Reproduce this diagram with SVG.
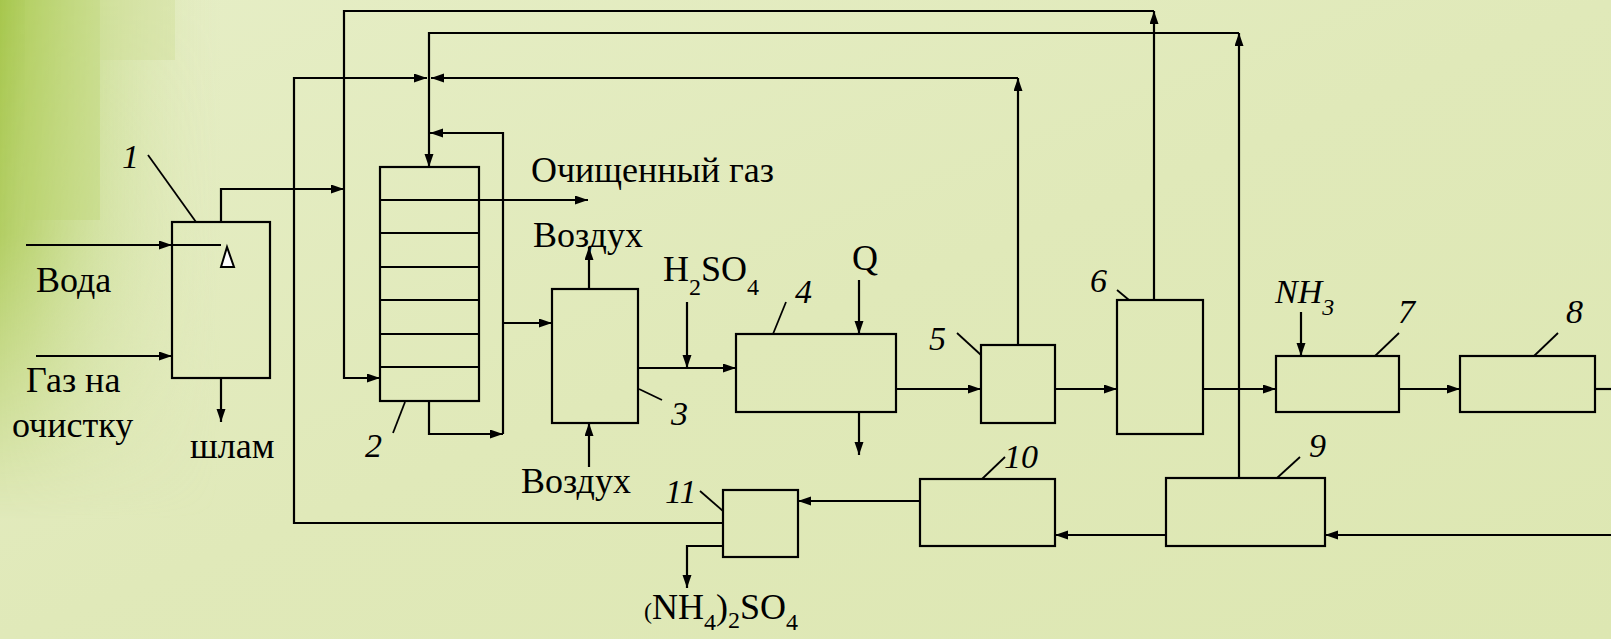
<svg xmlns="http://www.w3.org/2000/svg" width="1611" height="639" viewBox="0 0 1611 639">
<defs>
<linearGradient id="bg" x1="0" y1="0" x2="1" y2="1">
<stop offset="0" stop-color="#e6eec6"/>
<stop offset="0.5" stop-color="#e0e9b9"/>
<stop offset="1" stop-color="#dde7b2"/>
</linearGradient>
<linearGradient id="gh" x1="0" y1="0" x2="1" y2="0">
<stop offset="0" stop-color="#a6c64c" stop-opacity="1"/>
<stop offset="0.15" stop-color="#b0cd5e" stop-opacity="0.9"/>
<stop offset="0.45" stop-color="#c3d985" stop-opacity="0.6"/>
<stop offset="1" stop-color="#dfe8b8" stop-opacity="0"/>
</linearGradient>
<linearGradient id="gv" x1="0" y1="0" x2="0" y2="1">
<stop offset="0" stop-color="#fff" stop-opacity="1"/>
<stop offset="0.45" stop-color="#fff" stop-opacity="0.8"/>
<stop offset="1" stop-color="#fff" stop-opacity="0"/>
</linearGradient>
<mask id="mv"><rect x="0" y="0" width="220" height="520" fill="url(#gv)"/></mask>
<marker id="ar" markerUnits="userSpaceOnUse" markerWidth="14" markerHeight="10" refX="13" refY="4.5" orient="auto">
<path d="M0,0 L13,4.5 L0,9 z" fill="#000"/>
</marker>
<style>
.box{fill:none;stroke:#000;stroke-width:2.2}
.ln{fill:none;stroke:#000;stroke-width:2.2}
.c path{fill:none;stroke:#000;stroke-width:2.2}
.c path.a{marker-end:url(#ar)}
.ld{stroke:#000;stroke-width:1.8}
text{font-family:'Liberation Serif',serif}
.t{font-size:36px;fill:#000}
.n{font-size:34px;font-style:italic;fill:#000}
.s{font-size:24px}
</style>
</defs>
<rect width="1611" height="639" fill="url(#bg)"/>
<rect x="0" y="0" width="220" height="520" fill="url(#gh)" mask="url(#mv)"/>
<rect x="25" y="0" width="75" height="220" fill="#b9d36e" opacity="0.35"/>
<rect x="100" y="0" width="75" height="60" fill="#c9dc8c" opacity="0.3"/>

<g font-family="Liberation Serif">
<g id="node1">
<rect class="box" x="172" y="222" width="98" height="156"/>
<path class="ln" d="M172,245 H221"/>
<path d="M227,247 L221,267 L234,267 z" fill="#fff" stroke="#000" stroke-width="2"/>
<line class="ld" x1="148" y1="155" x2="196" y2="222"/>
<text class="n" x="122" y="168">1</text>
</g>

<g id="node2">
<rect class="box" x="380" y="167" width="99" height="234"/>
<path class="ln" d="M380,200 H479 M380,233 H479 M380,267 H479 M380,300 H479 M380,334 H479 M380,367 H479"/>
<line class="ld" x1="405" y1="402" x2="393" y2="433"/>
<text class="n" x="365" y="457">2</text>
</g>

<g id="node3">
<rect class="box" x="552" y="289" width="86" height="134"/>
<line class="ld" x1="639" y1="389" x2="662" y2="400"/>
<text class="n" x="671" y="425">3</text>
</g>

<g id="node4">
<rect class="box" x="736" y="334" width="160" height="78"/>
<line class="ld" x1="773" y1="334" x2="786" y2="302"/>
<text class="n" x="795" y="303">4</text>
</g>

<g id="node5">
<rect class="box" x="981" y="345" width="74" height="78"/>
<line class="ld" x1="957" y1="333" x2="981" y2="355"/>
<text class="n" x="929" y="350">5</text>
</g>

<g id="node6">
<rect class="box" x="1117" y="300" width="86" height="134"/>
<line class="ld" x1="1117" y1="290" x2="1129" y2="300"/>
<text class="n" x="1090" y="292">6</text>
</g>

<g id="node7">
<rect class="box" x="1276" y="356" width="123" height="56"/>
<line class="ld" x1="1375" y1="356" x2="1399" y2="333"/>
<text class="n" x="1398" y="323">7</text>
</g>

<g id="node8">
<rect class="box" x="1460" y="356" width="135" height="56"/>
<line class="ld" x1="1534" y1="356" x2="1558" y2="333"/>
<text class="n" x="1566" y="323">8</text>
</g>

<g id="node9">
<rect class="box" x="1166" y="478" width="159" height="68"/>
<line class="ld" x1="1277" y1="478" x2="1300" y2="457"/>
<text class="n" x="1309" y="457">9</text>
</g>

<g id="node10">
<rect class="box" x="920" y="479" width="135" height="67"/>
<line class="ld" x1="982" y1="479" x2="1005" y2="457"/>
<text class="n" x="1004" y="468">10</text>
</g>

<g id="node11">
<rect class="box" x="723" y="490" width="75" height="67"/>
<line class="ld" x1="700" y1="491" x2="723" y2="511"/>
<text class="n" x="665" y="503">11</text>
</g>

<g id="connectors" class="c">
<path class="a" d="M26,245 H172"/>
<path class="a" d="M36,356 H172"/>
<path class="a" d="M221,378 V422"/>
<path class="a" d="M221,222 V189 H344"/>
<path class="a" d="M1154,300 V11"/>
<path class="a" d="M1154,11 H344 V378 H380"/>
<path class="a" d="M1239,478 V33"/>
<path class="a" d="M1239,33 H429 V167"/>
<path class="a" d="M1018,345 V78"/>
<path class="a" d="M1018,78 H431"/>
<path class="a" d="M723,523 H294 V78 H427"/>
<path class="a" d="M429,401 V434 H503"/>
<path class="a" d="M503,434 V133 H430"/>
<path class="a" d="M503,323 H552"/>
<path class="a" d="M479,200 H588"/>
<path class="a" d="M589,289 V247"/>
<path class="a" d="M589,467 V423"/>
<path class="a" d="M638,368 H736"/>
<path class="a" d="M687,302 V368"/>
<path class="a" d="M859,280 V334"/>
<path class="a" d="M859,412 V455"/>
<path class="a" d="M896,389 H981"/>
<path class="a" d="M1055,389 H1117"/>
<path class="a" d="M1203,389 H1276"/>
<path class="a" d="M1301,312 V356"/>
<path class="a" d="M1399,389 H1460"/>
<path d="M1595,389 H1611"/>
<path class="a" d="M1611,535 H1325"/>
<path class="a" d="M1166,535 H1055"/>
<path class="a" d="M920,501 H798"/>
<path class="a" d="M723,546 H687 V588"/>
</g>

<g id="labels">
<text class="t" x="36" y="292">Вода</text>
<text class="t" x="26" y="392">Газ на</text>
<text class="t" x="12" y="437">очистку</text>
<text class="t" x="190" y="458">шлам</text>
<text class="t" x="531" y="182">Очищенный газ</text>
<text class="t" x="533" y="247">Воздух</text>
<text class="t" x="521" y="493">Воздух</text>
<text class="t" x="663" y="281">H<tspan class="s" dy="14">2</tspan><tspan dy="-14">SO</tspan><tspan class="s" dy="14">4</tspan></text>
<text class="t" x="852" y="270">Q</text>
<text class="n" x="1275" y="303">NH<tspan class="s" dy="12">3</tspan></text>
<text class="t" x="644" y="619"><tspan class="s">(</tspan>NH<tspan class="s" dy="11">4</tspan><tspan dy="-11">)</tspan><tspan class="s" dy="9">2</tspan><tspan dy="-9">SO</tspan><tspan class="s" dy="11">4</tspan></text>
</g>
</g>
</svg>
